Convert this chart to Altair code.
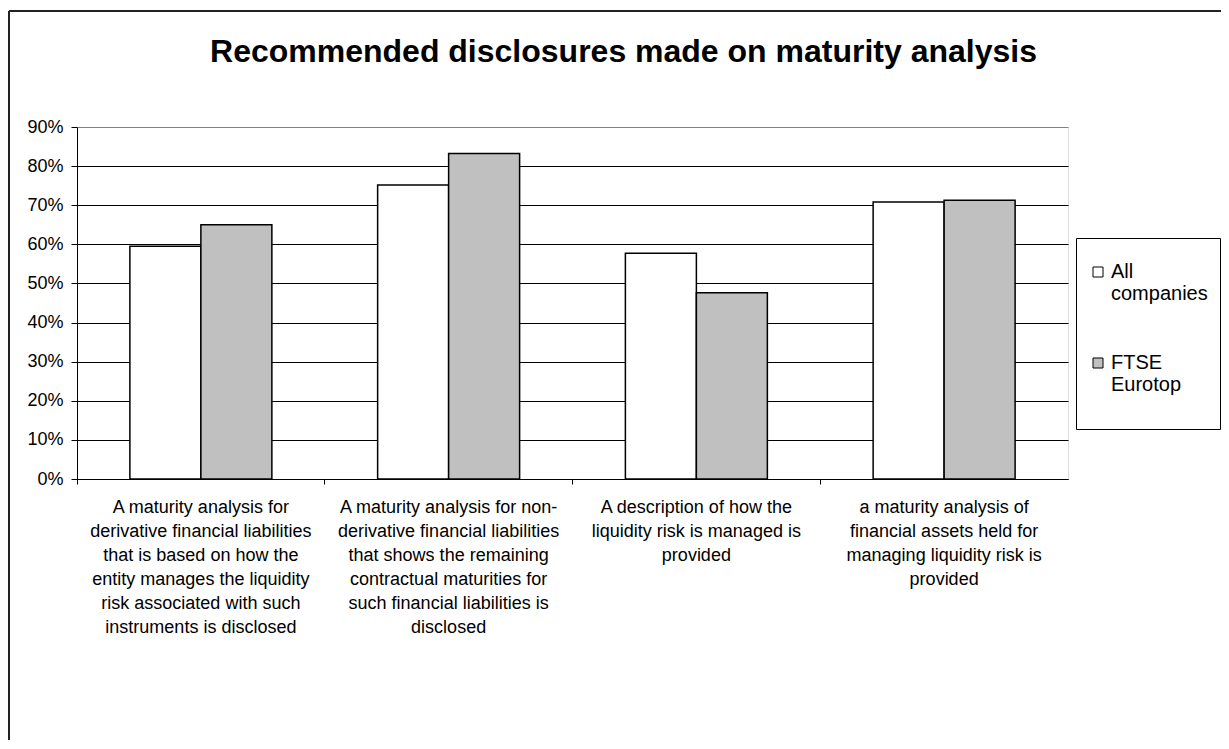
import altair as alt
import pandas as pd

# ---- data ----
category_lines = [
    ["A maturity analysis for", "derivative financial liabilities", "that is based on how the",
     "entity manages the liquidity", "risk associated with such", "instruments is disclosed"],
    ["A maturity analysis for non-", "derivative financial liabilities", "that shows the remaining",
     "contractual maturities for", "such financial liabilities is", "disclosed"],
    ["A description of how the", "liquidity risk is managed is", "provided"],
    ["a maturity analysis of", "financial assets held for", "managing liquidity risk is", "provided"],
]
categories = ["|".join(lines) for lines in category_lines]
series_names = ["All companies", "FTSE Eurotop"]
all_companies = [0.595, 0.752, 0.577, 0.708]
ftse_eurotop = [0.650, 0.832, 0.476, 0.713]
y_ticks = [0.0, 0.1, 0.2, 0.3, 0.4, 0.5, 0.6, 0.7, 0.8, 0.9]
title_text = "Recommended disclosures made on maturity analysis"

rows = []
for c, a, f in zip(categories, all_companies, ftse_eurotop):
    rows.append({"category": c, "series": series_names[0], "value": a})
    rows.append({"category": c, "series": series_names[1], "value": f})
df = pd.DataFrame(rows)

FONT = "Liberation Sans"
W, H = 991, 352

bars = alt.Chart(df).mark_bar(stroke="black", strokeWidth=1.5).encode(
    x=alt.X(
        "category:N", sort=categories,
        scale=alt.Scale(paddingInner=0, paddingOuter=0),
        axis=alt.Axis(
            title=None, bandPosition=0,
            labelExpr="split(datum.label, '|')",
            labelFont=FONT, labelFontSize=18, labelLineHeight=24,
            labelBaseline="top", labelPadding=14, labelAngle=0,
            labelOverlap=False, labelBound=False, labelLimit=400,
            tickSize=5, tickColor="black", domainColor="black",
            labelColor="black", grid=False,
        ),
    ),
    xOffset=alt.XOffset(
        "series:N", sort=series_names,
        scale=alt.Scale(paddingInner=0, paddingOuter=0.745),
    ),
    y=alt.Y(
        "value:Q",
        scale=alt.Scale(domain=[0, 0.9], nice=False),
        axis=alt.Axis(
            title=None, values=y_ticks, format=".0%",
            labelFont=FONT, labelFontSize=18, labelColor="black",
            tickSize=6, tickColor="black", labelPadding=8,
            domainColor="black", grid=True, gridWidth=1,
            gridColor=alt.condition("datum.value >= 0.89", alt.value("#808080"), alt.value("black")),
        ),
    ),
    fill=alt.Fill(
        "series:N", sort=series_names,
        scale=alt.Scale(domain=series_names, range=["#ffffff", "#c0c0c0"]),
        legend=alt.Legend(
            orient="none", legendX=999, legendY=111,
            title=" ", titleFontSize=2, titlePadding=10,
            padding=12, strokeColor="black", fillColor="white",
            labelExpr="split(datum.label + ' ', ' ')",
            labelFont=FONT, labelFontSize=20,
            labelBaseline="middle", labelColor="black", labelLimit=300,
            labelOffset=3, rowPadding=27,
            symbolType="square", symbolSize=100,
            symbolStrokeColor="black", symbolStrokeWidth=1,
        ),
    ),
)

frame_df = pd.DataFrame({"k": [0]})
frame_left = alt.Chart(frame_df).mark_rule(color="#222222", strokeWidth=2).encode(
    x=alt.value(-68), y=alt.value(-116), y2=alt.value(640)
)
frame_top = alt.Chart(frame_df).mark_rule(color="#222222", strokeWidth=2).encode(
    x=alt.value(-68), x2=alt.value(1160), y=alt.value(-116)
)

chart = alt.layer(bars, frame_left, frame_top).properties(
    width=W, height=H,
    padding={"left": 69, "top": 119, "right": 153, "bottom": 261},
    autosize=alt.AutoSizeParams(type="none"),
    title=alt.TitleParams(
        text=title_text, font=FONT, fontSize=32, fontWeight="bold",
        color="black", anchor="middle", dx=51, offset=-84, baseline="alphabetic",
    ),
).configure_view(stroke="#808080", strokeWidth=1).configure(background="white")

chart.save("out.html", embed_options={"renderer": "svg", "actions": False})
